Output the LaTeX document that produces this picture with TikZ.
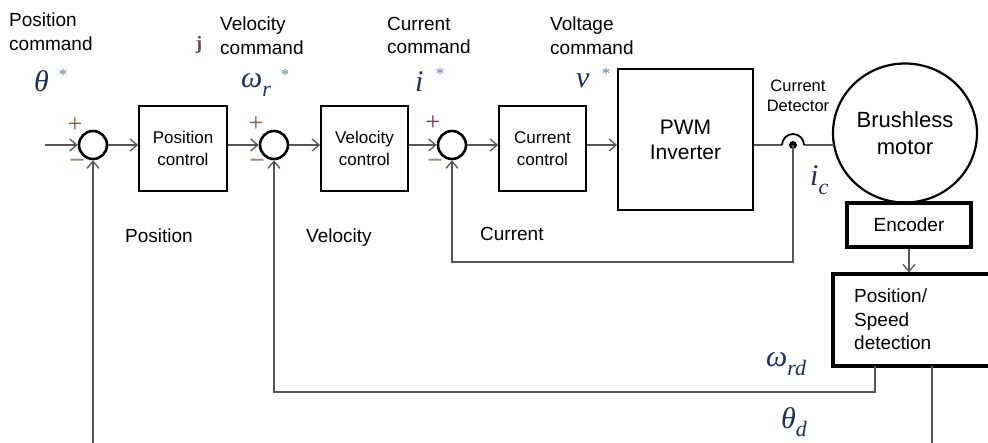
\documentclass[tikz,border=0pt]{standalone}
\usepackage{fontspec}
\setmainfont{Liberation Sans}
\newfontfamily\mserif{Liberation Serif}
\usetikzlibrary{arrows.meta,shapes.geometric}
\definecolor{lgray}{RGB}{85,85,85}
\definecolor{mcol}{RGB}{30,45,95}
\definecolor{stcol}{RGB}{110,125,160}
\definecolor{plusc}{RGB}{130,90,60}
\definecolor{minusc}{RGB}{160,135,115}
\definecolor{plusp}{RGB}{130,50,90}
\newcommand\fsz[2]{\fontsize{#1}{#2}\selectfont}
\newcommand\msb[1]{\raisebox{-0.28em}{\fsz{22}{22}#1}}
\tikzset{
  sumc/.style={circle,draw,line width=2.6pt,minimum size=28pt,inner sep=0pt},
  blk/.style={draw,line width=1.8pt,align=center,font=\fsz{17}{22},inner sep=0pt},
  thkblk/.style={draw,line width=3.2pt,inner sep=0pt},
  arr/.style={draw=lgray,line width=1.3pt,-{Straight Barb[length=7pt,width=12pt,line width=1.3pt]}},
  wire/.style={draw=lgray,line width=1.3pt},
  lbl/.style={font=\fsz{19}{23.5},align=left,inner sep=0pt,anchor=north west},
  mth/.style={text=mcol,font=\mserif\itshape\fsz{30}{30},inner sep=0pt,anchor=west},
  star/.style={text=stcol,font=\mserif\fsz{17}{17},inner sep=0pt},
  sgn/.style={font=\mserif\fsz{26}{26},inner sep=0pt},
  msgn/.style={font=\mserif\bfseries\fsz{28}{28},inner sep=0pt,text=minusc}
}
\begin{document}
\begin{tikzpicture}[x=1pt,y=-1pt]
\useasboundingbox (0,0) rectangle (988,442);
% top labels
\node[lbl] (lpc) at (9,13) {Position\\command};
\node[lbl] (lvc) at (220,17) {Velocity\\command};
\node[lbl] (lcc) at (387,17) {Current\\command};
\node[lbl] (lvo) at (550,17) {Voltage\\command};
\node[text=mcol!60!brown,font=\mserif\bfseries\fsz{19}{19},inner sep=0pt] (jart) at (199,45) {j};
% math labels
\node[mth] (th) at (34,81) {θ};
\node[star] (ths) at (63,75) {*};
\node[mth] (om) at (241,85) {ω\msb{r}};
\node[star] (oms) at (285,75) {*};
\node[mth] (ii) at (415,82) {i};
\node[star] (iis) at (440,74) {*};
\node[mth] (vv) at (576,81) {v};
\node[star] (vvs) at (606,74) {*};
\node[mth] (ic) at (810,180) {i\msb{c}};
\node[mth] (omd) at (766,364) {ω\msb{rd}};
\node[mth] (thd) at (781,422) {θ\msb{d}};
% summing junctions
\node[sumc] (s1) at (93,145) {};
\node[sumc] (s2) at (274,145) {};
\node[sumc] (s3) at (452,145) {};
\node[sgn,text=plusc] (p1) at (75,125) {+};
\node[msgn] (m1) at (77,164) {−};
\node[sgn,text=plusc] (p2) at (256,124) {+};
\node[msgn] (m2) at (257,164) {−};
\node[sgn,text=plusp] (p3) at (433,123) {+};
\node[msgn] (m3) at (435,164) {−};
% blocks
\node[blk,minimum width=88pt,minimum height=85pt] (pc) at (183,148.5) {Position\\control};
\node[blk,minimum width=87pt,minimum height=85pt] (vc) at (364.5,148.5) {Velocity\\control};
\node[blk,minimum width=87pt,minimum height=85pt] (cc) at (542.5,148.5) {Current\\control};
\node[blk,font=\fsz{21}{25},minimum width=135pt,minimum height=141pt] (pwm) at (685.5,139.5) {PWM\\Inverter};
\node[ellipse,draw,line width=2.2pt,minimum width=144pt,minimum height=139pt,inner sep=0pt,align=center,font=\fsz{22}{27}] (mot) at (905,133) {Brushless\\motor};
\node[thkblk,minimum width=124pt,minimum height=44pt,font=\fsz{19}{23}] (enc) at (909,225) {Encoder};
\node[thkblk,minimum width=159pt,minimum height=92pt] (det) at (912.5,320) {};
\node[lbl] (dett) at (854,289) {Position/\\Speed\\detection};
% current detector
\coordinate (cd) at (793,145);
\coordinate (cdl) at (782,145);
\coordinate (cdr) at (804,145);
\coordinate (motin) at (834,145);
\node[font=\fsz{16.5}{19.5},align=center,inner sep=0pt,anchor=north] (cdt) at (798,80) {Current\\Detector};
% bottom labels
\node[lbl] (bp) at (125,229) {Position};
\node[lbl] (bv) at (306,229) {Velocity};
\node[lbl] (bc) at (480,227) {Current};
% forward path
\coordinate (in) at (45,145);
\draw[arr] (in) -- (s1.west);
\draw[arr] (s1.east) -- (s1.east -| pc.west);
\draw[arr] (s1.east -| pc.east) -- (s2.west);
\draw[arr] (s2.east) -- (s2.east -| vc.west);
\draw[arr] (s2.east -| vc.east) -- (s3.west);
\draw[arr] (s3.east) -- (s3.east -| cc.west);
\draw[arr] (s3.east -| cc.east) -- (s3.east -| pwm.west);
\draw[wire] (s3.east -| pwm.east) -- (cdl);
\draw[wire] (cdr) -- (motin);
\draw[line width=1.8pt] (cdl) arc (180:360:11);
\fill (cd) circle (4);
% feedback paths
\coordinate (fbc) at (793,262);
\draw[arr] (cd) -- (fbc) -- (s3 |- fbc) -- (s3.south);
\coordinate (wrd) at (875,366);
\coordinate (fbw) at (875,392);
\draw[arr] (wrd) -- (fbw) -- (s2 |- fbw) -- (s2.south);
\coordinate (thb) at (932,366);
\coordinate (the) at (932,446);
\draw[wire] (thb) -- (the);
\coordinate (pfb) at (93,446);
\draw[arr] (pfb) -- (s1.south);
\draw[arr] (enc.south) -- (enc.south |- det.north);
\end{tikzpicture}
\end{document}
